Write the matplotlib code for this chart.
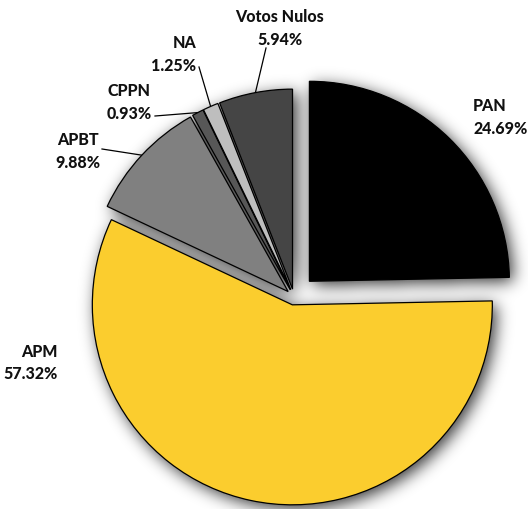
import matplotlib.pyplot as plt
import numpy as np

# Data
parties = ['PAN', 'APM', 'APBT', 'CPPN', 'NA', 'Votos Nulos']
votes = [24.69, 57.32, 9.88, 0.93, 1.25, 5.94]
colors = ['#000000', '#FBCD2E', '#808080', '#575757', '#BEBEBE', '#454545']
explode = [22, 8, 8, 8, 8, 8]  # pie() takes these in data units (pixels here)

W, H = 528, 510
fig = plt.figure(figsize=(W / 100, H / 100), dpi=100)
ax = fig.add_axes([0, 0, 1, 1])

wedges, _ = ax.pie(votes, colors=colors, explode=explode, startangle=90,
                   counterclock=False, radius=200, center=(294, 212),
                   wedgeprops=dict(edgecolor='black', linewidth=0.9))

# soft shadow behind the slices
X, Y = np.meshgrid(np.arange(W) + 0.5, np.arange(H) + 0.5)
pts = np.column_stack([X.ravel(), Y.ravel()])
mask = np.zeros(len(pts), dtype=bool)
for w in wedges:
    path = w.get_patch_transform().transform_path(w.get_path())
    mask |= path.contains_points(pts)
mask = mask.reshape(H, W).astype(float)

sigma = 8
k = np.exp(-0.5 * (np.arange(-3 * sigma, 3 * sigma + 1) / sigma) ** 2)
k /= k.sum()
blur = np.apply_along_axis(lambda m: np.convolve(m, k, mode='same'), 1, mask)
blur = np.apply_along_axis(lambda m: np.convolve(m, k, mode='same'), 0, blur)

shadow = np.zeros((H, W, 4))
shadow[..., 3] = np.clip(blur * 0.8, 0, 0.65)
dx, dy = 4, -4
ax.imshow(shadow, extent=(dx, W + dx, dy, H + dy), origin='lower',
          interpolation='bilinear')
for w in wedges:
    w.set_zorder(2)

ax.set_xlim(0, W)
ax.set_ylim(0, H)
ax.set_aspect('auto')
ax.axis('off')

font = dict(family='Lato', fontweight=900, fontsize=11.5, color='#111111')

# label positions (name line, value line), alignment and leader line start
labels = {
    'PAN': ((473, 404), (473, 381), 'left', None),
    'APM': ((58, 158), (58, 136), 'right', None),
    'APBT': ((78, 370), (78, 347), 'center', (102, 360)),
    'CPPN': ((129, 419), (129, 396), 'center', (155, 393)),
    'NA': ((196, 467), (196, 444), 'right', (199, 442)),
    'Votos Nulos': ((280, 493), (280, 470), 'center', (266, 461)),
}

for w, name, v in zip(wedges, parties, votes):
    (nx, ny), (vx, vy), ha, start = labels[name]
    ax.text(nx, ny, name, ha=ha, va='center', **font)
    ax.text(vx, vy, f'{v:.2f}%', ha=ha, va='center', **font)
    if start is not None:
        mid = np.deg2rad((w.theta1 + w.theta2) / 2)
        ex = w.center[0] + w.r * np.cos(mid)
        ey = w.center[1] + w.r * np.sin(mid)
        ax.plot([start[0], ex], [start[1], ey], color='black', lw=0.9,
                zorder=1)

fig.savefig('out.png', dpi=100)
